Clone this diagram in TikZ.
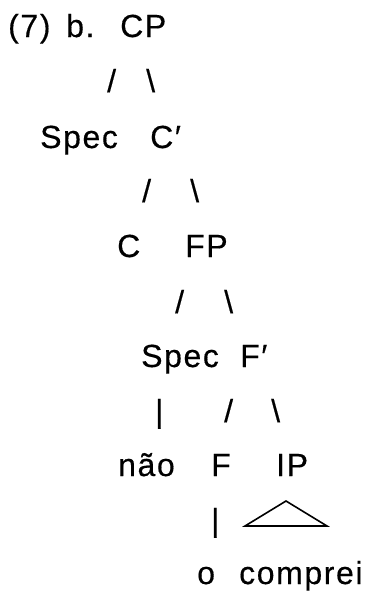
\documentclass[tikz,border=0pt]{standalone}
\usepackage{fontspec}
\setmainfont[LetterSpace=5,FakeBold=0.4]{Liberation Sans}
\begin{document}
\begin{tikzpicture}[x=1pt,y=-1pt,
  word/.style={anchor=base west, inner sep=0pt, font=\fontsize{32}{38}\selectfont},
  roof/.style={draw, line width=1.6pt, line join=miter}]
\useasboundingbox (0,0) rectangle (371,592);
% row 1
\node[word] (num)   at (8,37)   {(7)};
\node[word] (sub)   at (66,37)  {b.};
\node[word] (cp)    at (120,37) {CP};
% row 2
\node[word] (cpl)   at (107,92) {/};
\node[word] (cpr)   at (146,92) {\textbackslash};
% row 3
\node[word] (spec1) at (40,148) {Spec};
\node[word] (cbar)  at (150,148) {C′};
% row 4
\node[word] (cbl)   at (142,202) {/};
\node[word] (cbr)   at (190,202) {\textbackslash};
% row 5
\node[word] (c)     at (117,257) {C};
\node[word] (fp)    at (185,257) {FP};
% row 6
\node[word] (fpl)   at (175,313) {/};
\node[word] (fpr)   at (224,313) {\textbackslash};
% row 7
\node[word] (spec2) at (141,367) {Spec};
\node[word] (fbar)  at (240,367) {F′};
% row 8
\node[word] (specv) at (155,422) {|};
\node[word] (fbl)   at (224,422) {/};
\node[word] (fbr)   at (271,422) {\textbackslash};
% row 9
\node[word] (nao)   at (118,476) {não};
\node[word] (f)     at (211,476) {F};
\node[word] (ip)    at (276,476) {IP};
% row 10
\node[word] (fv)    at (211,531) {|};
\coordinate (apex)  at (286,501);
\coordinate (lft)   at (245,526);
\coordinate (rgt)   at (327,526);
\draw[roof] (apex) -- (lft) -- (rgt) -- cycle;
% row 11
\node[word] (o)     at (197,584) {o};
\node[word] (verb)  at (239,584) {comprei};
\end{tikzpicture}
\end{document}
